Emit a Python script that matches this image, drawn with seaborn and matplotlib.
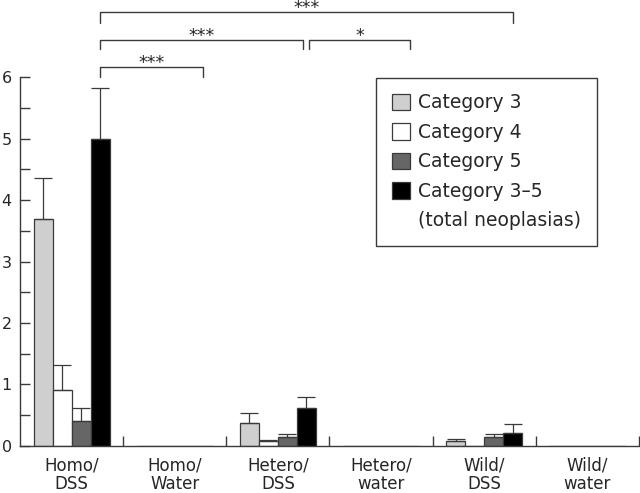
import numpy as np
import pandas as pd
import matplotlib
matplotlib.use('Agg')
import matplotlib.pyplot as plt
import seaborn as sns
from matplotlib.patches import Patch

# %% Data

groups = ['Homo/\nDSS', 'Homo/\nWater', 'Hetero/\nDSS', 'Hetero/\nwater', 'Wild/\nDSS', 'Wild/\nwater']
categories = ['Category 3', 'Category 4', 'Category 5', 'Category 3\u20135']

cat3 = [3.70, 0, 0.375, 0, 0.075, 0]
cat4 = [0.90, 0, 0.07, 0, 0, 0]
cat5 = [0.40, 0, 0.14, 0, 0.145, 0]
total = [5.00, 0, 0.62, 0, 0.21, 0]

cat3_err = [0.66, 0, 0.155, 0, 0.03, 0]
cat4_err = [0.41, 0, 0.03, 0, 0, 0]
cat5_err = [0.22, 0, 0.05, 0, 0.04, 0]
total_err = [0.82, 0, 0.17, 0, 0.14, 0]

# significance brackets: (from group, to group, label)
brackets = [(0, 4, '***'), (0, 2, '***'), (2, 3, '*'), (0, 1, '***')]

colours = ['#cfcfcf', '#ffffff', '#666666', '#000000']

# %% Build long table

values = [cat3, cat4, cat5, total]
errors = [cat3_err, cat4_err, cat5_err, total_err]
df = pd.DataFrame({
    'group': np.tile(groups, len(categories)),
    'category': np.repeat(categories, len(groups)),
    'value': np.concatenate(values),
})

# %% Plot

sns.set_style('white')
plt.rcParams['font.family'] = ['DejaVu Sans']
ink = '#3a3a3a'

fig = plt.figure(figsize=(6.4, 4.93), dpi=100)
ax = fig.add_axes([20 / 640, 1 - 445.7 / 493, 619 / 640, (445.7 - 77.3) / 493])

sns.barplot(data=df, x='group', y='value', hue='category', order=groups,
            hue_order=categories, palette=colours, width=0.736, gap=0,
            edgecolor=ink, linewidth=0.9, errorbar=None, legend=False,
            saturation=1, ax=ax)

#Upward-only error bars on the non-empty bars
for cont, err in zip(ax.containers, errors):
    for bar, e in zip(cont, err):
        h = bar.get_height()
        if h <= 0:
            continue
        xc = bar.get_x() + bar.get_width() / 2
        ax.errorbar(xc, h, yerr=[[0], [e]], fmt='none', ecolor=ink,
                    elinewidth=0.9, capsize=6.5, capthick=0.9, zorder=5)

ax.set_xlim(-0.5, 5.5)
ax.set_ylim(0, 6)
ax.set_xlabel('')
ax.set_ylabel('')

#Axis styling
for s in ['top', 'right']:
    ax.spines[s].set_visible(False)
for s in ['left', 'bottom']:
    ax.spines[s].set_color(ink)
    ax.spines[s].set_linewidth(1.0)

ax.set_yticks(np.arange(0, 7, 1))
ax.set_yticks(np.arange(0.5, 6, 1), minor=True)
ax.tick_params(axis='y', which='both', direction='in', length=7, width=1.0,
               color=ink, left=True, pad=6, labelsize=11.5)
ax.set_xticks(np.arange(len(groups)))
ax.set_xticklabels(groups, linespacing=1.0)
ax.set_xticks(np.arange(0.5, 6, 1), minor=True)
ax.tick_params(axis='x', which='major', length=0, pad=8, labelsize=12)
ax.tick_params(axis='x', which='minor', direction='in', length=7, width=1.0,
               color=ink, bottom=True)

#Significance brackets between the total-neoplasia bars
tot_x = [b.get_x() + b.get_width() / 2 for b in ax.containers[3]]
levels = {(0, 4): (7.06, 6.89), (0, 2): (6.61, 6.46), (2, 3): (6.61, 6.46), (0, 1): (6.17, 6.01)}
for a, b, lab in brackets:
    top, low = levels[(a, b)]
    x0, x1 = tot_x[a], tot_x[b]
    if (a, b) == (0, 2):
        x1 -= 0.03
    if (a, b) == (2, 3):
        x0 += 0.03
    ax.plot([x0, x0, x1, x1], [low, top, top, low], color=ink, lw=1.0,
            clip_on=False)
    ax.text((x0 + x1) / 2, top - 0.02, lab, ha='center', va='baseline',
            fontsize=12.5, clip_on=False)

#Legend box
handles = [Patch(facecolor=c, edgecolor=ink, linewidth=0.9) for c in colours]
handles.append(Patch(visible=False))
labels = categories + ['(total neoplasias)']
leg = fig.legend(handles, labels, loc='upper right',
                 bbox_to_anchor=(597 / 640, 1 - 77.5 / 493),
                 fontsize=13.5, frameon=True, fancybox=False, framealpha=1,
                 edgecolor=ink, handlelength=0.95, handleheight=0.95,
                 handletextpad=0.45, labelspacing=0.56, borderpad=0.85,
                 borderaxespad=0)
leg.get_frame().set_linewidth(1.0)

fig.savefig('out.png', dpi=100, facecolor='white')
